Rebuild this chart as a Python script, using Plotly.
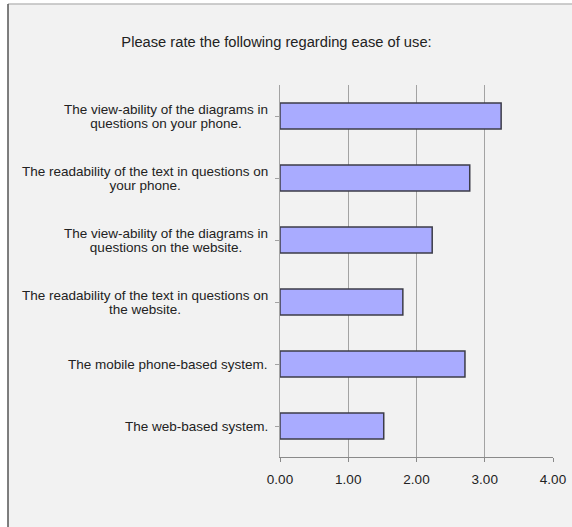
import plotly.graph_objects as go

# Survey items (top to bottom) and their mean ease-of-use ratings
categories = [
    "The view-ability of the diagrams in<br>questions on your phone.",
    "The readability of the text in questions on<br>your phone.",
    "The view-ability of the diagrams in<br>questions on the website.",
    "The readability of the text in questions on<br>the website.",
    "The mobile phone-based system.",
    "The web-based system.",
]
ratings = [3.24, 2.78, 2.23, 1.80, 2.71, 1.52]
x_ticks = [0, 1, 2, 3, 4]
x_tick_labels = ["0.00", "1.00", "2.00", "3.00", "4.00"]

FONT = "Liberation Sans, Arial, sans-serif"
W, H = 572, 527
L, R, T, B = 280, 19, 85, 70
PW, PH = W - L - R, H - T - B


def fx(px):
    return (px - L) / PW


def fy(py):
    return (H - B - py) / PH


def tight_label(text, size=13.5):
    # wrap each line in a sized span so the base font (which sets line spacing) can be smaller
    return "<br>".join(
        f'<span style="font-size:{size}px">{part}</span>' for part in text.split("<br>")
    )


fig = go.Figure(
    go.Bar(
        x=ratings,
        y=list(range(len(categories))),
        orientation="h",
        width=0.42,
        marker=dict(color="#a9abff", line=dict(color="#3c3c48", width=1.5)),
        hoverinfo="x",
    )
)

# Category labels: right-aligned block, centred lines
annotations = [
    dict(
        x=0, xref="paper", y=i, yref="y",
        text=tight_label(label), showarrow=False,
        xanchor="right", yanchor="middle", align="center",
        xshift=-10,
        font=dict(family=FONT, size=10.8, color="#222"),
    )
    for i, label in enumerate(categories)
]

shapes = [
    # white strip above and to the left of the frame
    dict(type="rect", xref="paper", yref="paper", x0=fx(0), x1=fx(W), y0=fy(0), y1=fy(4),
         fillcolor="white", line=dict(width=0), layer="below"),
    dict(type="rect", xref="paper", yref="paper", x0=fx(0), x1=fx(8), y0=fy(0), y1=fy(H),
         fillcolor="white", line=dict(width=0), layer="below"),
    # frame edges
    dict(type="line", xref="paper", yref="paper", x0=fx(8), x1=fx(W), y0=fy(4), y1=fy(4),
         line=dict(color="#bdbdbd", width=1.5)),
    dict(type="line", xref="paper", yref="paper", x0=fx(8), x1=fx(8), y0=fy(4), y1=fy(H),
         line=dict(color="#555555", width=1.5)),
]

fig.update_layout(
    width=W, height=H,
    autosize=False,
    margin=dict(l=L, r=R, t=T, b=B, autoexpand=False),
    paper_bgcolor="#f2f2f2",
    plot_bgcolor="rgba(0,0,0,0)",
    showlegend=False,
    font=dict(family=FONT, size=13, color="#222"),
    title=dict(
        text="Please rate the following regarding ease of use:",
        x=276.5 / W, xref="container", xanchor="center",
        y=1 - 42 / H, yref="container", yanchor="middle",
        font=dict(family=FONT, size=14.7, color="#222"),
        automargin=False,
    ),
    xaxis=dict(
        range=[0, 4], tickvals=x_ticks, ticktext=x_tick_labels,
        showgrid=True, gridcolor="#a3a3a3", gridwidth=1,
        zeroline=False, showline=True, linecolor="#8a8a8a", linewidth=1,
        ticks="outside", ticklen=4, tickcolor="#8a8a8a",
        ticklabelstandoff=6,
        tickfont=dict(family=FONT, size=13.5, color="#222"),
        automargin=False, fixedrange=True,
    ),
    yaxis=dict(
        range=[len(categories) - 0.5, -0.5],
        tickvals=list(range(len(categories))),
        showticklabels=False, showgrid=False, zeroline=False,
        showline=True, linecolor="#a3a3a3", linewidth=1,
        ticks="outside", tickson="boundaries", ticklen=4, tickcolor="#a3a3a3",
        automargin=False, fixedrange=True,
    ),
    annotations=annotations,
    shapes=shapes,
)

fig.write_html("out.html", config={"displayModeBar": False})
